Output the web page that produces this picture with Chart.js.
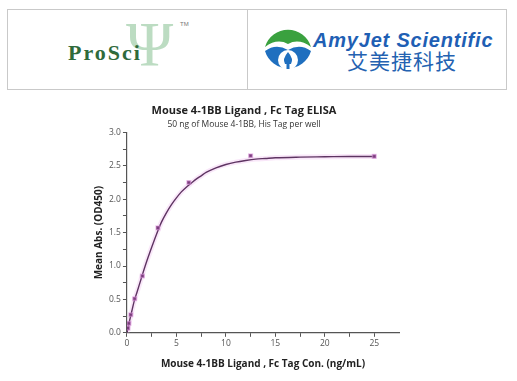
<!DOCTYPE html>
<html>
<head>
<meta charset="utf-8">
<script src="https://cdn.jsdelivr.net/npm/chart.js@4"></script>
<style>
  body { margin: 0; background: #fff; width: 517px; height: 381px; position: relative; overflow: hidden; }
  .logos { position: absolute; left: 7px; top: 9px; width: 498px; height: 79px; border: 1px solid #c9c9c9; }
  .divider { position: absolute; left: 239px; top: 0; width: 1px; height: 79px; background: #c9c9c9; }
  .psi { position: absolute; left: 118px; top: -2px; font: 64px "Liberation Serif", serif; color: #bcdcc2; }
  .prosci { position: absolute; left: 60px; top: 30px; font: bold 22px "Liberation Serif", serif; color: #2f6a3b; letter-spacing: 2px; }
  .tm { position: absolute; left: 172px; top: 11px; font: 6px "Liberation Sans", sans-serif; color: #777; }
  .amy { position: absolute; left: 305px; top: 19px; font: italic bold 20px "Liberation Sans", sans-serif; color: #1f5fb4; letter-spacing: 0.8px; }
  .cn { position: absolute; left: 339px; top: 35px; font: 21px "Noto Sans CJK SC", sans-serif; color: #2462b1; letter-spacing: 1px; }
  .icon { position: absolute; left: 255px; top: 13px; }
  #wrap { position: absolute; left: 0; top: 95px; width: 517px; height: 286px; }
</style>
</head>
<body>
<div class="logos">
  <div class="psi">Ψ</div>
  <div class="prosci">ProSci</div>
  <div class="tm">TM</div>
  <div class="divider"></div>
  <svg class="icon" width="50" height="54" viewBox="0 0 50 54">
    <path d="M2,24 A24,24 0 0 1 48,24 Q36,15 25,21 Q14,15 2,24 Z" fill="#3aa13f"/>
    <path d="M2,28 Q13,20 25,27 Q37,20 48,28 A24,24 0 0 1 2,28 Z" fill="#1f6fbf"/>
    <circle cx="25" cy="37" r="10" fill="#fff"/>
    <path d="M25,29 Q31,36 28,41 L26.5,41 L26.5,46 L23.5,46 L23.5,41 L22,41 Q19,36 25,29 Z" fill="#1f6fbf"/>
  </svg>
  <div class="amy">AmyJet Scientific</div>
  <div class="cn">艾美捷科技</div>
</div>
<div id="wrap"><canvas id="elisa-chart" width="517" height="286"></canvas></div>
<script>
// measured points
const concentrations = [25, 12.5, 6.25, 3.125, 1.5625, 0.78, 0.39, 0.195, 0.098];
const meanAbs = [2.64, 2.65, 2.25, 1.57, 0.85, 0.51, 0.27, 0.14, 0.07];
// fitted curve
const fitX = [0, 0.25, 0.5, 0.78, 1, 1.5, 2, 2.5, 3, 3.5, 4, 4.5, 5, 5.5, 6, 6.5, 7, 7.5, 8, 9, 10, 11, 12, 13, 14, 15, 17.5, 20, 22.5, 25];
const fitY = [0, 0.17, 0.33, 0.5, 0.6, 0.84, 1.07, 1.28, 1.48, 1.66, 1.8, 1.92, 2.02, 2.11, 2.18, 2.24, 2.3, 2.35, 2.4, 2.47, 2.52, 2.555, 2.58, 2.6, 2.61, 2.62, 2.63, 2.635, 2.64, 2.64];
const xTicks = [0, 5, 10, 15, 20, 25];
const yTicks = [0, 0.5, 1, 1.5, 2, 2.5, 3];

const points = concentrations.map((c, i) => ({ x: c, y: meanAbs[i] }));
const curve = fitX.map((c, i) => ({ x: c, y: fitY[i] }));
const axisColor = '#555';
const font = '"Open Sans", "Liberation Sans", sans-serif';

new Chart(document.getElementById('elisa-chart'), {
  type: 'scatter',
  data: {
    datasets: [
      {
        data: points,
        order: 0,
        pointStyle: 'rect',
        pointRadius: 2.6,
        backgroundColor: '#7a3f7c',
        borderColor: 'rgba(222,150,222,0.5)',
        borderWidth: 1.5
      },
      {
        data: curve,
        order: 1,
        showLine: true,
        pointRadius: 0,
        borderColor: '#5e3462',
        borderWidth: 1.4,
        cubicInterpolationMode: 'monotone'
      },
      {
        data: curve,
        order: 2,
        showLine: true,
        pointRadius: 0,
        borderColor: 'rgba(238,185,238,0.35)',
        borderWidth: 5,
        cubicInterpolationMode: 'monotone'
      }
    ]
  },
  options: {
    responsive: false,
    animation: false,
    layout: { padding: { left: 89, right: 118, top: 4, bottom: 7 } },
    plugins: {
      legend: { display: false },
      tooltip: { enabled: false },
      title: {
        display: true,
        text: 'Mouse 4-1BB Ligand , Fc Tag ELISA',
        color: '#222',
        font: { family: font, size: 11, weight: 'bold' },
        padding: { top: 5, bottom: 2 }
      },
      subtitle: {
        display: true,
        text: '50 ng of Mouse 4-1BB, His Tag per well',
        color: '#333',
        font: { family: font, size: 8.5 },
        padding: { bottom: 3 }
      }
    },
    scales: {
      x: {
        type: 'linear',
        min: 0,
        max: 27.5,
        border: { display: true, color: axisColor, width: 1.2 },
        grid: {
          drawOnChartArea: false,
          drawTicks: true,
          tickLength: 4,
          tickColor: ctx => (ctx.tick && ctx.tick.value > 25) ? 'rgba(0,0,0,0)' : axisColor,
          tickWidth: 1
        },
        ticks: {
          stepSize: 2.5,
          autoSkip: false,
          maxRotation: 0,
          color: '#555',
          font: { family: font, size: 8.5 },
          padding: 2,
          callback: v => xTicks.includes(v) ? v : ''
        },
        title: {
          display: true,
          text: 'Mouse 4-1BB Ligand , Fc Tag Con. (ng/mL)',
          color: '#222',
          font: { family: font, size: 10, weight: 'bold' },
          padding: { top: 7 }
        }
      },
      y: {
        min: 0,
        max: 3,
        border: { display: true, color: axisColor, width: 1.2 },
        grid: {
          drawOnChartArea: false,
          drawTicks: true,
          tickLength: 4,
          tickColor: axisColor,
          tickWidth: 1
        },
        ticks: {
          stepSize: 0.25,
          autoSkip: false,
          color: '#555',
          font: { family: font, size: 8.5 },
          padding: 2,
          callback: v => yTicks.includes(v) ? v.toFixed(1) : ''
        },
        title: {
          display: true,
          text: 'Mean Abs. (OD450)',
          color: '#222',
          font: { family: font, size: 10, weight: 'bold' },
          padding: { bottom: 2 }
        }
      }
    }
  }
});
</script>
</body>
</html>
